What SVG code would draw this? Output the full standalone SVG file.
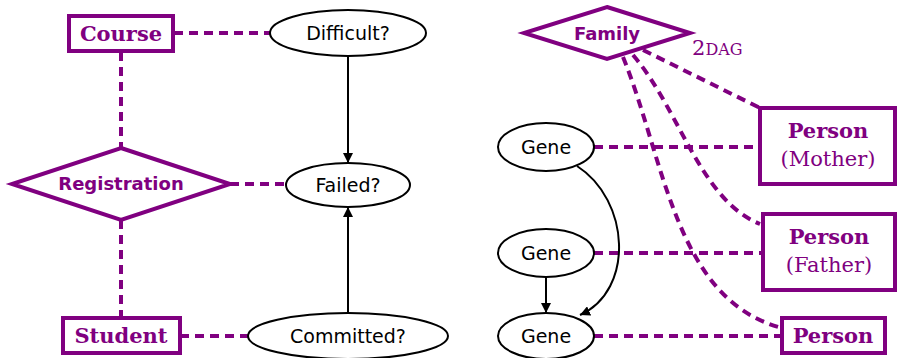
<svg xmlns="http://www.w3.org/2000/svg" width="898" height="358" viewBox="0 0 898 358">
<defs>
<style>
.ent{fill:#fff;stroke:#800080;stroke-width:4}
.rel{fill:#fff;stroke:#800080;stroke-width:4;stroke-linejoin:miter}
.var{fill:#fff;stroke:#000;stroke-width:2}
.dash{fill:none;stroke:#800080;stroke-width:4;stroke-dasharray:9 6}
.arr{fill:none;stroke:#000;stroke-width:2;marker-end:url(#ah)}
.et{font-family:"DejaVu Serif","Liberation Serif",serif;font-weight:bold;font-size:21px;fill:#800080;text-anchor:middle}
.es{font-family:"DejaVu Serif","Liberation Serif",serif;font-size:21px;fill:#800080;text-anchor:middle}
.rt{font-family:"DejaVu Sans","Liberation Sans",sans-serif;font-weight:bold;font-size:18px;fill:#800080;text-anchor:middle}
.vt{font-family:"DejaVu Sans","Liberation Sans",sans-serif;font-size:19px;fill:#000;text-anchor:middle}
</style>
<marker id="ah" viewBox="0 0 10 10" refX="10" refY="5" markerWidth="10" markerHeight="10" markerUnits="userSpaceOnUse" orient="auto">
<path d="M0,0 L10,5 L0,10 Z" fill="#000"/>
</marker>
</defs>
<g id="connectors">
<line class="dash" x1="174" y1="33" x2="270" y2="33"/>
<line class="dash" x1="121" y1="52" x2="121" y2="148"/>
<line class="dash" x1="230" y1="184" x2="286" y2="184"/>
<line class="dash" x1="121" y1="220" x2="121" y2="318"/>
<line class="dash" x1="180" y1="336" x2="248" y2="336"/>
<line class="arr" x1="348" y1="56" x2="348" y2="163"/>
<line class="arr" x1="348" y1="313" x2="348" y2="207"/>
<line class="dash" x1="594" y1="147" x2="760" y2="147"/>
<line class="dash" x1="594" y1="253" x2="763" y2="253"/>
<line class="dash" x1="594" y1="336" x2="782" y2="336"/>
<line class="dash" x1="643" y1="50" x2="760" y2="108"/>
<path class="dash" d="M633,55 C680,110 700,200 760,224"/>
<path class="dash" d="M623,57 C665,160 675,300 782,328"/>
<line class="arr" x1="546" y1="277" x2="546" y2="313"/>
<path class="arr" d="M577,166 C630,200 635,290 580,315"/>
</g>
<g id="course">
<rect class="ent" x="69" y="16" width="104" height="35"/>
<text class="et" x="121" y="41">Course</text>
</g>
<g id="registration">
<polygon class="rel" points="121,148 230,184 121,220 12,184"/>
<text class="rt" x="121" y="190">Registration</text>
</g>
<g id="student">
<rect class="ent" x="63" y="318" width="117" height="35"/>
<text class="et" x="121" y="343">Student</text>
</g>
<g id="difficult">
<ellipse class="var" cx="348" cy="33" rx="78" ry="23"/>
<text class="vt" x="348" y="40">Difficult?</text>
</g>
<g id="failed">
<ellipse class="var" cx="348" cy="185" rx="62" ry="22"/>
<text class="vt" x="348" y="192">Failed?</text>
</g>
<g id="committed">
<ellipse class="var" cx="348" cy="336" rx="100" ry="23"/>
<text class="vt" x="348" y="343">Committed?</text>
</g>
<g id="family">
<polygon class="rel" points="607,7 690,33 607,59 524,33"/>
<text class="rt" x="607" y="40">Family</text>
<text class="es" x="692" y="55" text-anchor="start" style="text-anchor:start">2<tspan font-size="16">DAG</tspan></text>
</g>
<g id="gene1">
<ellipse class="var" cx="546" cy="147" rx="48" ry="24"/>
<text class="vt" x="546" y="154">Gene</text>
</g>
<g id="gene2">
<ellipse class="var" cx="546" cy="253" rx="48" ry="24"/>
<text class="vt" x="546" y="260">Gene</text>
</g>
<g id="gene3">
<ellipse class="var" cx="546" cy="336" rx="48" ry="23"/>
<text class="vt" x="546" y="343">Gene</text>
</g>
<g id="person-mother">
<rect class="ent" x="760" y="108" width="135" height="76"/>
<text class="et" x="828" y="138">Person</text>
<text class="es" x="828" y="166">(Mother)</text>
</g>
<g id="person-father">
<rect class="ent" x="763" y="214" width="132" height="76"/>
<text class="et" x="829" y="244">Person</text>
<text class="es" x="829" y="272">(Father)</text>
</g>
<g id="person">
<rect class="ent" x="782" y="318" width="103" height="35"/>
<text class="et" x="833" y="343">Person</text>
</g>
</svg>
